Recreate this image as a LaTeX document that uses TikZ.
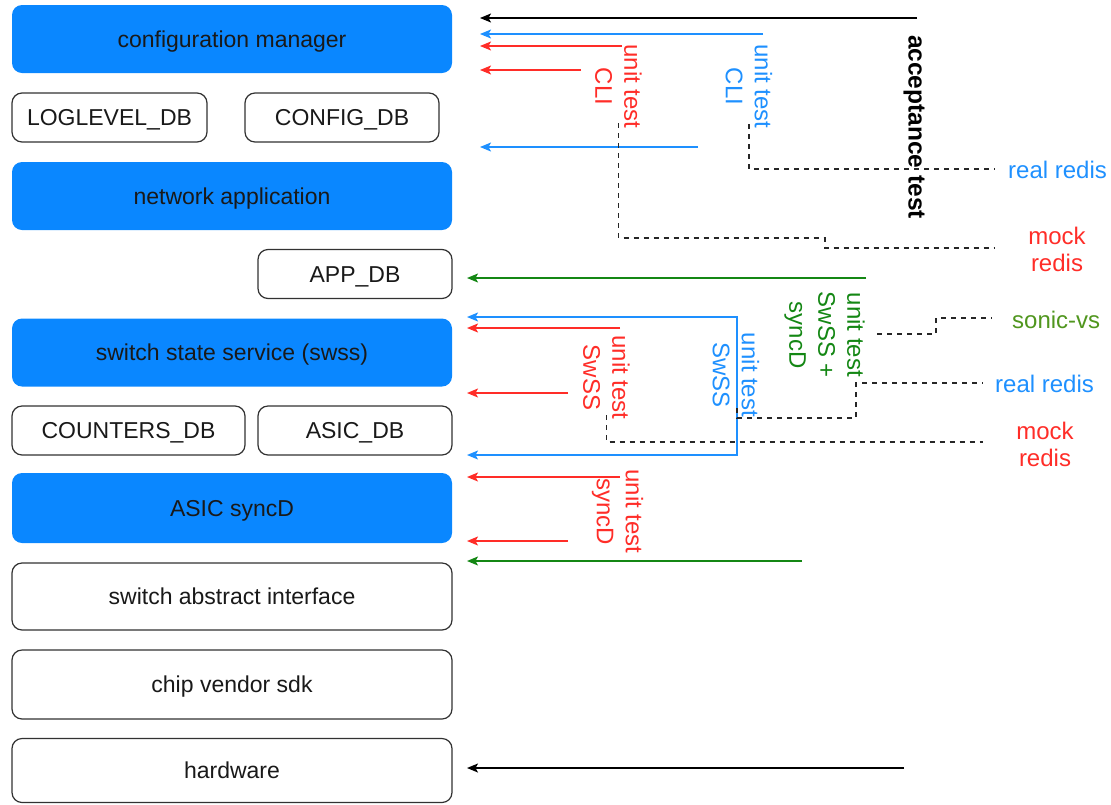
\documentclass[tikz,border=0pt]{standalone}
\usepackage{fontspec}
\setmainfont{Liberation Sans}
\usetikzlibrary{arrows.meta}
\definecolor{boxblue}{RGB}{10,135,255}
\definecolor{lineblue}{RGB}{30,144,255}
\definecolor{linered}{RGB}{255,45,40}
\definecolor{linegreen}{RGB}{20,135,20}
\definecolor{olivegreen}{RGB}{80,150,30}
\definecolor{edgegray}{RGB}{50,50,50}

\begin{document}
\begin{tikzpicture}[x=1pt,y=-1pt,
  layer/.style={rounded corners=10pt, minimum width=440pt, inner sep=0pt,
    text height=16pt, text depth=0pt,
    font=\fontsize{23}{28}\selectfont, text=black!90},
  hot/.style={layer, fill=boxblue},
  plain/.style={layer, draw=edgegray, line width=1.2pt, fill=white},
  lbl/.style={rotate=-90, align=center, inner sep=0pt, font=\fontsize{24}{29}\selectfont},
  tag/.style={align=center, inner sep=0pt, font=\fontsize{24}{27}\selectfont},
  feed/.style={line width=1.4pt, -{Stealth[length=11pt,width=9pt,inset=2.5pt]}},
  link/.style={dash pattern=on 5pt off 5pt, line width=1.1pt, draw=black!85},
]
\useasboundingbox (0,0) rectangle (1111,804);

% software stack
\node[hot, minimum height=68pt] (cfgmgr) at (232,39) {configuration manager};
\node[plain, minimum width=195pt, minimum height=49pt] (logdb) at (109.5,117.5) {LOGLEVEL\_DB};
\node[plain, minimum width=194pt, minimum height=49pt] (cfgdb) at (342,117.5) {CONFIG\_DB};
\node[hot, minimum height=68pt] (netapp) at (232,196) {network application};
\node[plain, minimum width=194pt, minimum height=49pt] (appdb) at (355,274) {APP\_DB};
\node[hot, minimum height=68pt] (swss) at (232,352.5) {switch state service (swss)};
\node[plain, minimum width=233pt, minimum height=49pt] (cntdb) at (128.5,430.5) {COUNTERS\_DB};
\node[plain, minimum width=194pt, minimum height=49pt] (asicdb) at (355,430.5) {ASIC\_DB};
\node[hot, minimum height=70pt] (syncd) at (232,508) {ASIC syncD};
\node[plain, minimum height=67pt] (sai) at (232,596.5) {switch abstract interface};
\node[plain, minimum height=69pt] (sdk) at (232,684.5) {chip vendor sdk};
\node[plain, minimum height=64pt] (hw) at (232,770.5) {hardware};

% test scopes
\node[lbl, text=linered] (cliU) at (618.5,86.5) {unit test\\CLI};
\node[lbl, text=lineblue] (cliR) at (749,86.5) {unit test\\CLI};
\node[lbl, font=\fontsize{24.5}{29}\selectfont\bfseries] (accept) at (914,127) {acceptance test};
\node[lbl, text=linered] (swssU) at (606.5,377.5) {unit test\\SwSS};
\node[lbl, text=lineblue] (swssR) at (736,375) {unit test\\SwSS};
\node[lbl, text=linegreen] (vslbl) at (824.5,335) {unit test\\SwSS +\\syncD};
\node[lbl, text=linered] (syncU) at (617.5,511.5) {unit test\\syncD};

% environments
\node[tag, text=lineblue, anchor=west] (rr1) at (1008,170) {real redis};
\node[tag, text=linered] (mr1) at (1057,249.5) {mock\\redis};
\node[tag, text=olivegreen, anchor=west] (svs) at (1012,320) {sonic-vs};
\node[tag, text=lineblue, anchor=west] (rr2) at (995,384) {real redis};
\node[tag, text=linered] (mr2) at (1045,444) {mock\\redis};

% arrow rails beside the stack
\coordinate (railA) at (480,0);
\coordinate (railB) at (467,0);

% arrow origins
\coordinate (s1) at (917,18);
\coordinate (s2) at (763,34);
\coordinate (s3) at (622,46);
\coordinate (s4) at (581,70);
\coordinate (s5) at (698,147);
\coordinate (s6) at (866,278);
\coordinate (br1) at (737,317);
\coordinate (br2) at (737,455);
\coordinate (s8) at (620,328);
\coordinate (s9) at (568,393);
\coordinate (s10) at (620,477);
\coordinate (s11) at (568,541);
\coordinate (s12) at (802,561);
\coordinate (s13) at (904,768);

\draw[feed, black] (s1) -- (s1 -| railA);
\draw[feed, lineblue] (s2) -- (s2 -| railA);
\draw[feed, linered] (s3) -- (s3 -| railA);
\draw[feed, linered] (s4) -- (s4 -| railA);
\draw[feed, lineblue] (s5) -- (s5 -| railA);
\draw[feed, linegreen] (s6) -- (s6 -| railB);
\draw[line width=1.4pt, lineblue,
  {Stealth[length=11pt,width=9pt,inset=2.5pt]}-{Stealth[length=11pt,width=9pt,inset=2.5pt]}]
  (br1 -| railB) -- (br1) -- (br2) -- (br2 -| railB);
\draw[feed, linered] (s8) -- (s8 -| railB);
\draw[feed, linered] (s9) -- (s9 -| railB);
\draw[feed, linered] (s10) -- (s10 -| railB);
\draw[feed, linered] (s11) -- (s11 -| railB);
\draw[feed, linegreen] (s12) -- (s12 -| railB);
\draw[feed, black] (s13) -- (s13 -| railB);

% dashed links from test scopes to their environments
\coordinate (e1) at (995,169);
\coordinate (e2) at (995,248);
\coordinate (e3) at (992,318);
\coordinate (e4) at (983,383);
\coordinate (e5) at (983,442);

\draw[link] (cliR.center |- 0,124) |- (e1);
\draw[link] (cliU.center |- 0,123) |- (825,238) |- (e2);
\draw[link] (877,334) -- (936,334) |- (e3);
\draw[link] (737,408) |- (856,418) |- (e4);
\draw[link] (swssU.center |- 0,415) |- (e5);
\end{tikzpicture}
\end{document}
